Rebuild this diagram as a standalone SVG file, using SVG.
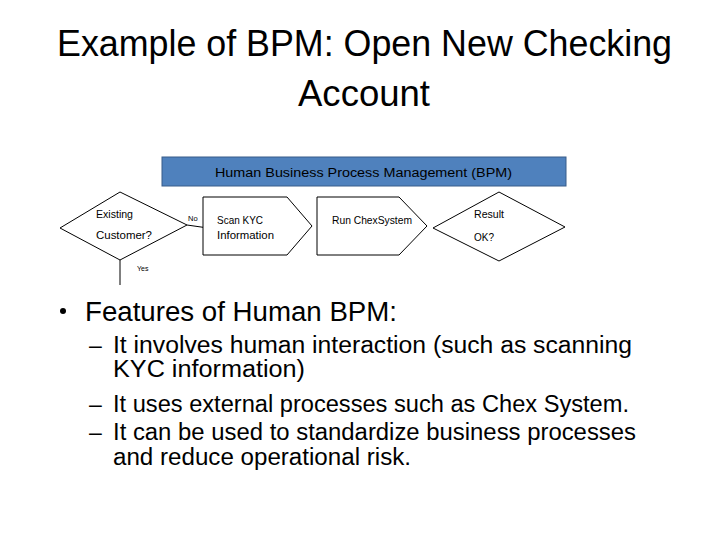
<svg xmlns="http://www.w3.org/2000/svg" width="728" height="546" viewBox="0 0 728 546">
<style>
text { font-family: "Liberation Sans", Arial, sans-serif; fill: #000; }
.title { font-size: 36px; }
.b1 { font-size: 27px; }
.b2 { font-size: 23px; }
.lbl { font-size: 10.5px; }
.tiny { font-size: 7.5px; }
.shape { fill: #fff; stroke: #000; stroke-width: 1; }
.conn { fill: none; stroke: #000; stroke-width: 1; }
</style>
<rect width="728" height="546" fill="#fff"/>
<g id="title">
<text class="title" x="57" y="56" textLength="615" lengthAdjust="spacingAndGlyphs">Example of BPM: Open New Checking</text>
<text class="title" x="298" y="106" textLength="132" lengthAdjust="spacingAndGlyphs">Account</text>
</g>
<g id="banner">
<rect x="162" y="157" width="404" height="29" fill="#4f81bd" stroke="#385d8a" stroke-width="1"/>
<text class="lbl" x="215" y="177" font-size="12.5" style="font-size:12.5px" textLength="297" lengthAdjust="spacingAndGlyphs">Human Business Process Management (BPM)</text>
</g>
<g id="connectors">
<line class="conn" x1="187" y1="225" x2="208" y2="228"/>
<line class="conn" x1="120" y1="260" x2="120" y2="285"/>
<text class="tiny" x="188" y="221">No</text>
<text class="tiny" x="137" y="271" style="font-size:7px">Yes</text>
</g>
<g id="existing-customer">
<polygon class="shape" points="60,228 120,192 187,225 120,260"/>
<text class="lbl" x="96" y="218" textLength="37" lengthAdjust="spacingAndGlyphs">Existing</text>
<text class="lbl" x="96" y="239" textLength="56" lengthAdjust="spacingAndGlyphs">Customer?</text>
</g>
<g id="scan-kyc">
<polygon class="shape" points="203,197 287,197 312,226 287,255 203,255"/>
<text class="lbl" x="217" y="224" textLength="46" lengthAdjust="spacingAndGlyphs">Scan KYC</text>
<text class="lbl" x="217" y="239" textLength="57" lengthAdjust="spacingAndGlyphs">Information</text>
</g>
<g id="run-chexsystem">
<polygon class="shape" points="317,197 399,197 427,226 399,255 317,255"/>
<text class="lbl" x="332" y="224" textLength="80" lengthAdjust="spacingAndGlyphs">Run ChexSystem</text>
</g>
<g id="result-ok">
<polygon class="shape" points="433,228 499,192 565,227 499,261"/>
<text class="lbl" x="474" y="218" textLength="30" lengthAdjust="spacingAndGlyphs">Result</text>
<text class="lbl" x="474" y="241" textLength="20" lengthAdjust="spacingAndGlyphs">OK?</text>
</g>
<g id="bullets">
<circle cx="63" cy="311" r="3"/>
<text class="b1" x="85" y="321" textLength="312" lengthAdjust="spacingAndGlyphs">Features of Human BPM:</text>
<text class="b2" x="89" y="353">–</text>
<text class="b2" x="113" y="353" textLength="519" lengthAdjust="spacingAndGlyphs">It involves human interaction (such as scanning</text>
<text class="b2" x="113" y="377" textLength="192" lengthAdjust="spacingAndGlyphs">KYC information)</text>
<text class="b2" x="89" y="412">–</text>
<text class="b2" x="113" y="412" textLength="516" lengthAdjust="spacingAndGlyphs">It uses external processes such as Chex System.</text>
<text class="b2" x="89" y="440">–</text>
<text class="b2" x="113" y="440" textLength="523" lengthAdjust="spacingAndGlyphs">It can be used to standardize business processes</text>
<text class="b2" x="113" y="465" textLength="298" lengthAdjust="spacingAndGlyphs">and reduce operational risk.</text>
</g>
</svg>
